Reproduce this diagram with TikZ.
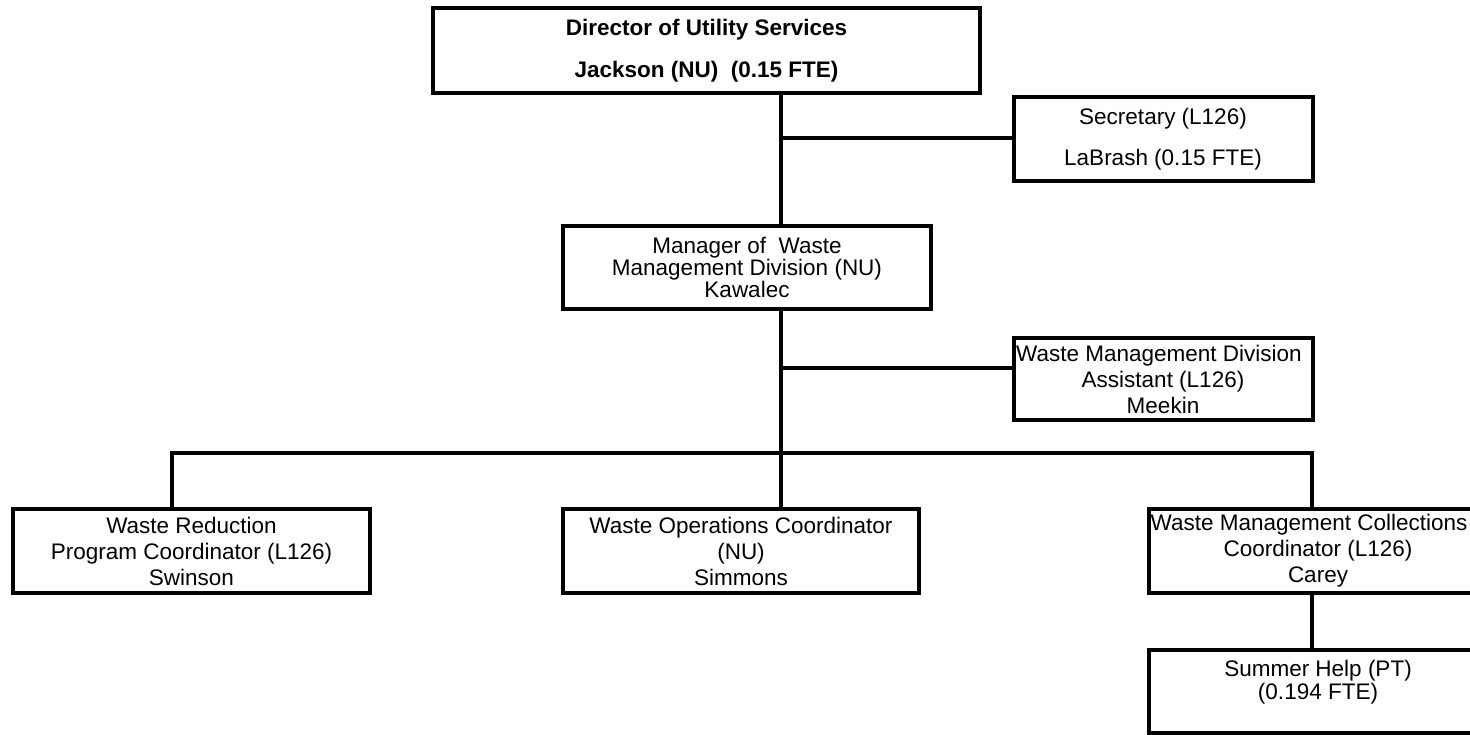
\documentclass[tikz,border=0pt]{standalone}
\usepackage{fontspec}
\setmainfont{Liberation Sans}
\begin{document}
\begin{tikzpicture}[x=1pt,y=-1pt,
  box/.style={draw, line width=4pt, inner sep=0pt, align=center, fill=white},
  conn/.style={line width=4pt}]
\useasboundingbox (0,0) rectangle (1470,735);
\clip (0,0) rectangle (1470,735);
\fill[white] (0,0) rectangle (1470,735);
% nodes
\node[box, minimum width=547pt, minimum height=85pt, font=\fontsize{22.5}{42}\selectfont\bfseries]
  (dir) at (706.5,50.5) {Director of Utility Services\\Jackson (NU)\ \ (0.15 FTE)};
\node[box, minimum width=299pt, minimum height=84pt, font=\fontsize{22.5}{41}\selectfont]
  (sec) at (1163,139) {Secretary (L126)\\LaBrash (0.15 FTE)};
\node[box, minimum width=368pt, minimum height=83pt, font=\fontsize{22.5}{22}\selectfont]
  (mgr) at (747,267.5) {Manager of\ \ Waste\\Management Division (NU)\\Kawalec};
\node[box, minimum width=299pt, minimum height=82pt, font=\fontsize{22.5}{26}\selectfont]
  (asst) at (1163,379) {\hspace*{-8pt}Waste Management Division\\Assistant (L126)\\Meekin};
\node[box, minimum width=357pt, minimum height=84pt, font=\fontsize{22.5}{26}\selectfont]
  (red) at (191.5,551) {Waste Reduction\\Program Coordinator (L126)\\Swinson};
\node[box, minimum width=356pt, minimum height=84pt, font=\fontsize{22.5}{26}\selectfont]
  (ops) at (741,551) {Waste Operations Coordinator\\(NU)\\Simmons};
\node[box, minimum width=338pt, minimum height=84pt, font=\fontsize{22.5}{26}\selectfont]
  (col) at (1318,551) {\hspace*{-18pt}Waste Management Collections\\Coordinator (L126)\\Carey};
\node[box, minimum width=338pt, minimum height=83pt, font=\fontsize{22.5}{23}\selectfont]
  (sum) at (1318,691.5) {Summer Help (PT)\\(0.194 FTE)\\\mbox{}};
% junction coordinates
\coordinate (trunk) at (781,0);
\coordinate (secjoin) at (781,138);
\coordinate (asstjoin) at (781,368);
\coordinate (busL) at (172,453);
\coordinate (busR) at (1312,453);
% connectors
\draw[conn] (dir.south -| trunk) -- (mgr.north -| trunk);
\draw[conn] (secjoin) -- (secjoin -| sec.west);
\draw[conn] (mgr.south -| trunk) -- (ops.north -| trunk);
\draw[conn] (asstjoin) -- (asstjoin -| asst.west);
\draw[conn] (red.north -| busL) -- (busL) -- (busR) -- (col.north -| busR);
\draw[conn] (col.south -| busR) -- (sum.north -| busR);
\end{tikzpicture}
\end{document}
